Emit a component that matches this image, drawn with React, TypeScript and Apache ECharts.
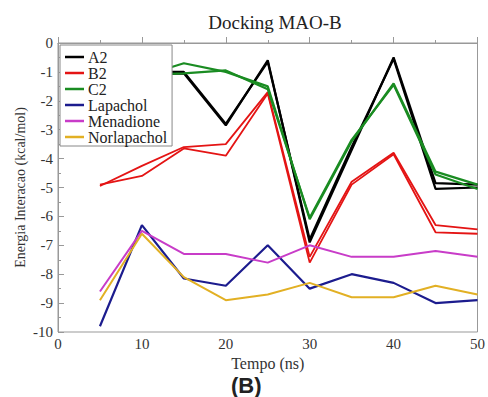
import React, { useEffect, useRef } from "react";
import * as echarts from "echarts";

const tempo = [5, 10, 15, 20, 25, 30, 35, 40, 45, 50];
const a2Run1 = [-1.5, -1.1, -1.05, -2.85, -0.6, -6.9, -3.7, -0.5, -4.85, -4.9];
const a2Run2 = [-1.4, -1.0, -1.0, -2.8, -0.65, -6.8, -3.6, -0.55, -5.05, -5.0];
const b2Run1 = [-4.95, -4.25, -3.6, -3.5, -1.7, -7.4, -4.8, -3.8, -6.3, -6.45];
const b2Run2 = [-4.9, -4.6, -3.65, -3.9, -1.75, -7.6, -4.9, -3.85, -6.55, -6.6];
const c2Run1 = [-1.3, -1.15, -0.7, -1.0, -1.5, -6.1, -3.4, -1.4, -4.45, -4.9];
const c2Run2 = [-1.25, -1.1, -1.05, -0.95, -1.6, -6.05, -3.35, -1.45, -4.55, -5.05];
const lapachol = [-9.8, -6.3, -8.15, -8.4, -7.0, -8.5, -8.0, -8.3, -9.0, -8.9];
const menadione = [-8.6, -6.5, -7.3, -7.3, -7.6, -7.0, -7.4, -7.4, -7.2, -7.4];
const norlapachol = [-8.9, -6.6, -8.1, -8.9, -8.7, -8.3, -8.8, -8.8, -8.4, -8.7];

const names = ["A2", "B2", "C2", "Lapachol", "Menadione", "Norlapachol"];
const colors: Record<string, string> = {
  A2: "#000000",
  B2: "#e41414",
  C2: "#1a8c22",
  Lapachol: "#1c1c8e",
  Menadione: "#c83cc8",
  Norlapachol: "#e2b024",
};

const SERIF = "Liberation Serif";

function mk(name: string, vals: number[], width: number) {
  return {
    type: "line",
    name,
    data: tempo.map((t, i) => [t, vals[i]]),
    showSymbol: false,
    symbol: "none",
    lineStyle: { color: colors[name], width },
    itemStyle: { color: colors[name] },
  };
}

export default function App() {
  const ref = useRef<HTMLDivElement>(null);
  useEffect(() => {
    document.body.style.margin = "0";
    if (!ref.current) return;
    const chart = echarts.init(ref.current, undefined, { renderer: "svg" });
    chart.setOption({
      animation: false,
      backgroundColor: "#ffffff",
      title: {
        text: "Docking MAO-B",
        left: 270,
        top: 8,
        textAlign: "center",
        textStyle: { fontFamily: SERIF, fontSize: 19, fontWeight: "normal", color: "#222" },
      },
      legend: {
        data: names,
        orient: "vertical",
        left: 60,
        top: 45,
        padding: [4, 5, 1, 5],
        itemGap: 0,
        itemWidth: 19,
        itemHeight: 2.5,
        icon: "rect",
        backgroundColor: "#ffffff",
        borderColor: "#888888",
        borderWidth: 1,
        textStyle: { fontFamily: SERIF, fontSize: 16, lineHeight: 16, color: "#222", padding: [0, 0, 0, -1] },
      },
      grid: {
        left: 58,
        right: 7,
        top: 43,
        bottom: 65,
        show: true,
        borderColor: "#999999",
        borderWidth: 1,
      },
      xAxis: {
        type: "value",
        min: 0,
        max: 50,
        interval: 10,
        name: "Tempo (ns)",
        nameLocation: "middle",
        nameGap: 16,
        nameTextStyle: { fontFamily: SERIF, fontSize: 16, color: "#333" },
        axisLine: { show: true, lineStyle: { color: "#999" } },
        axisTick: { inside: true, length: 6, lineStyle: { color: "#999" } },
        minorTick: { show: true, splitNumber: 2, length: 3, lineStyle: { color: "#999" } },
        splitLine: { show: false },
        axisLabel: { fontFamily: SERIF, fontSize: 15, color: "#333", margin: 4 },
      },
      yAxis: {
        type: "value",
        min: -10,
        max: 0,
        interval: 1,
        name: "Energia Interacao (kcal/mol)",
        nameLocation: "middle",
        nameGap: 31,
        nameMoveOverlap: false,
        nameTextStyle: { fontFamily: SERIF, fontSize: 14, color: "#333" },
        axisLine: { show: true, lineStyle: { color: "#999" } },
        axisTick: { inside: true, length: 6, lineStyle: { color: "#999" } },
        minorTick: { show: true, splitNumber: 2, length: 3, lineStyle: { color: "#999" } },
        splitLine: { show: false },
        axisLabel: { fontFamily: SERIF, fontSize: 15, color: "#333", margin: 5 },
      },
      graphic: [
        {
          type: "text",
          left: 231,
          top: 374,
          style: {
            text: "(B)",
            font: "bold 22px Liberation Sans",
            fill: "#222",
          },
        },
      ],
      series: [
        mk("A2", a2Run1, 2.2),
        mk("A2", a2Run2, 2.2),
        mk("B2", b2Run1, 1.8),
        mk("B2", b2Run2, 1.8),
        mk("C2", c2Run1, 2.2),
        mk("C2", c2Run2, 2.2),
        mk("Lapachol", lapachol, 2.2),
        mk("Menadione", menadione, 2),
        mk("Norlapachol", norlapachol, 2),
      ],
    });
    return () => chart.dispose();
  }, []);
  return <div ref={ref} style={{ width: 488, height: 397 }} />;
}
